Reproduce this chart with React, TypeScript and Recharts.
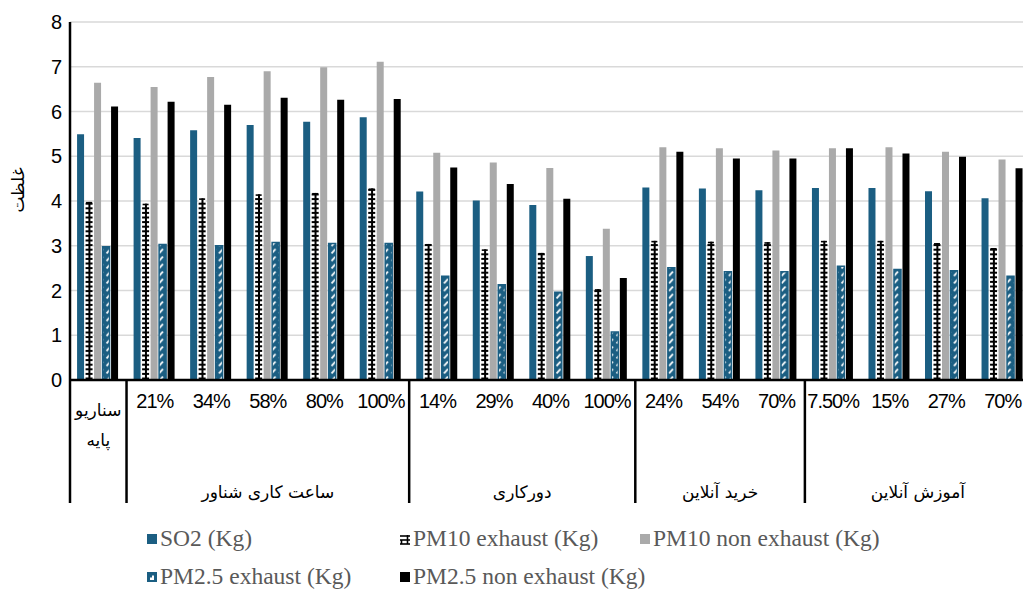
import { BarChart, Bar, XAxis, YAxis, CartesianGrid } from "recharts";

const categories = [
  "سناریو پایه", "21%", "34%", "58%", "80%", "100%",
  "14%", "29%", "40%", "100%",
  "24%", "54%", "70%",
  "7.50%", "15%", "27%", "70%",
];
const groupNames = ["", "ساعت کاری شناور", "دورکاری", "خرید آنلاین", "آموزش آنلاین"];
const groupSizes = [1, 5, 4, 3, 4];

const so2 = [5.49, 5.41, 5.58, 5.7, 5.77, 5.87, 4.21, 4.01, 3.91, 2.77, 4.3, 4.28, 4.24, 4.29, 4.29, 4.22, 4.06];
const pm10Exhaust = [3.98, 3.94, 4.06, 4.15, 4.18, 4.28, 3.04, 2.92, 2.84, 2.03, 3.11, 3.09, 3.08, 3.11, 3.11, 3.06, 2.95];
const pm10NonExhaust = [6.64, 6.55, 6.77, 6.9, 6.99, 7.11, 5.08, 4.86, 4.74, 3.38, 5.2, 5.18, 5.13, 5.18, 5.2, 5.1, 4.93];
const pm25Exhaust = [2.98, 3.03, 3.0, 3.07, 3.05, 3.05, 2.32, 2.13, 1.96, 1.07, 2.51, 2.42, 2.42, 2.54, 2.47, 2.44, 2.32];
const pm25NonExhaust = [6.11, 6.22, 6.15, 6.31, 6.26, 6.28, 4.75, 4.38, 4.05, 2.28, 5.1, 4.95, 4.95, 5.18, 5.06, 4.99, 4.73];

const yTicks = [0, 1, 2, 3, 4, 5, 6, 7, 8];

const TEAL = "#1b5e82";
const GRAY = "#aaaaaa";
const PERSIAN = "'DejaVu Sans', sans-serif";
const SERIF = "Liberation Serif, serif";

const data = categories.map((label, i) => ({
  label,
  so2: so2[i],
  pm10Ex: pm10Exhaust[i],
  pm10Non: pm10NonExhaust[i],
  pm25Ex: pm25Exhaust[i],
  pm25Non: pm25NonExhaust[i],
}));

// index of the first category in each group
const groupStarts: number[] = [];
groupSizes.reduce((acc, n) => {
  groupStarts.push(acc);
  return acc + n;
}, 0);

const AXIS_BOTTOM = 503;

function CategoryTick(props: any) {
  const { x, y, payload, index } = props;
  const half = payload.offset ?? 28.26;
  const g = groupStarts.indexOf(index);

  return (
    <g>
      {index === 0 ? (
        <text textAnchor="middle" fontFamily={PERSIAN} fontSize={17} fill="#000">
          <tspan x={x} y={y + 36}>سناریو</tspan>
          <tspan x={x} y={y + 66}>پایه</tspan>
        </text>
      ) : (
        <text
          x={x}
          y={y + 28}
          textAnchor="middle"
          fontFamily="'Liberation Sans', Arial, sans-serif"
          fontSize={20}
          letterSpacing={-1}
          fill="#000"
        >
          {payload.value}
        </text>
      )}
      {g >= 0 && (
        <line x1={x - half} x2={x - half} y1={y} y2={AXIS_BOTTOM} stroke="#000" strokeWidth={2.5} />
      )}
      {g > 0 && (
        <text
          x={x + (groupSizes[g] - 1) * half}
          y={y + 118}
          textAnchor="middle"
          fontFamily={PERSIAN}
          fontSize={17}
          fill="#000"
        >
          {groupNames[g]}
        </text>
      )}
    </g>
  );
}

function LadderBar(props: any) {
  const { x, y, width, height } = props;
  if (!height || height <= 0) return null;
  const midX = x + width * 0.55;
  const rungs: number[] = [];
  for (let yy = y + height - 1.5; yy > y + 1; yy -= 4.6) rungs.push(yy);
  return (
    <g>
      <rect x={x} y={y} width={width} height={height} fill="#fff" />
      <line x1={midX} x2={midX} y1={y} y2={y + height} stroke="#000" strokeWidth={2} />
      <line x1={x + 0.5} x2={x + width - 0.5} y1={y + 0.8} y2={y + 0.8} stroke="#000" strokeWidth={1.6} />
      {rungs.map((r, i) => (
        <line key={i} x1={x} x2={x + width} y1={r} y2={r} stroke="#000" strokeWidth={2} />
      ))}
    </g>
  );
}

function YLabel() {
  return (
    <text x={24} y={190} transform="rotate(-90 24 190)" textAnchor="middle" fontFamily={PERSIAN} fontSize={17} fill="#000">
      غلظت
    </text>
  );
}

function LegendItem({ left, top, swatch, text }: { left: number; top: number; swatch: any; text: string }) {
  return (
    <div style={{ position: "absolute", left, top, display: "flex", alignItems: "center", whiteSpace: "nowrap" }}>
      <svg width={12} height={12} style={{ marginRight: 3 }}>
        {swatch}
      </svg>
      <span>{text}</span>
    </div>
  );
}

export default function App() {
  return (
    <div
      style={{
        position: "absolute",
        left: 0,
        top: 0,
        width: 1023,
        height: 590,
        overflow: "hidden",
        background: "#fff",
      }}
    >
      <BarChart
        width={1061}
        height={503}
        data={data}
        margin={{ top: 22, right: 30, bottom: 0, left: 0 }}
        barCategoryGap="12.5%"
        barGap={1.5}
      >
        <defs>
          <pattern id="diagTeal" patternUnits="userSpaceOnUse" width={7.5} height={7.5}>
            <rect width={7.5} height={7.5} fill={TEAL} />
            <line x1={1.5} y1={6} x2={5.5} y2={1.5} stroke="#fff" strokeWidth={1.8} />
          </pattern>
        </defs>
        <CartesianGrid vertical={false} stroke="#d9d9d9" strokeWidth={1.5} />
        <YAxis
          domain={[0, 8]}
          ticks={yTicks}
          width={70}
          tickLine={false}
          tickSize={0}
          tickMargin={8}
          axisLine={{ stroke: "#000", strokeWidth: 2.5 }}
          tick={{ fontSize: 20, fill: "#000", fontFamily: "'Liberation Sans', Arial, sans-serif" }}
          label={<YLabel />}
        />
        <XAxis
          dataKey="label"
          interval={0}
          height={123}
          tickLine={false}
          tickSize={0}
          tickMargin={0}
          axisLine={{ stroke: "#000", strokeWidth: 2.5 }}
          tick={<CategoryTick />}
        />
        <Bar dataKey="so2" name="SO2 (Kg)" fill={TEAL} isAnimationActive={false} />
        <Bar dataKey="pm10Ex" name="PM10 exhaust (Kg)" fill="#fff" shape={<LadderBar />} isAnimationActive={false} />
        <Bar dataKey="pm10Non" name="PM10 non exhaust (Kg)" fill={GRAY} isAnimationActive={false} />
        <Bar
          dataKey="pm25Ex"
          name="PM2.5 exhaust (Kg)"
          fill="url(#diagTeal)"
          stroke={TEAL}
          strokeWidth={1.5}
          isAnimationActive={false}
        />
        <Bar dataKey="pm25Non" name="PM2.5 non exhaust (Kg)" fill="#000" isAnimationActive={false} />
      </BarChart>

      {/* Legend */}
      <div
        style={{
          position: "absolute",
          left: 0,
          top: 0,
          width: 1023,
          height: 590,
          fontFamily: SERIF,
          fontSize: 23.5,
          color: "#595959",
        }}
      >
        <LegendItem
          left={145}
          top={525}
          text="SO2 (Kg)"
          swatch={<rect x={2} y={1} width={10} height={10} fill={TEAL} />}
        />
        <LegendItem
          left={398}
          top={525}
          text="PM10 exhaust (Kg)"
          swatch={
            <g stroke="#000" strokeWidth={1.6}>
              <line x1={2} x2={12} y1={3} y2={3} />
              <line x1={2} x2={12} y1={7} y2={7} />
              <line x1={2} x2={12} y1={11} y2={11} />
              <line x1={3.5} x2={3.5} y1={7} y2={11} />
              <line x1={9.5} x2={9.5} y1={2} y2={11} />
            </g>
          }
        />
        <LegendItem
          left={638}
          top={525}
          text="PM10 non exhaust (Kg)"
          swatch={<rect x={2} y={1} width={10} height={10} fill={GRAY} />}
        />
        <LegendItem
          left={145}
          top={563}
          text="PM2.5 exhaust (Kg)"
          swatch={
            <g>
              <rect x={2.75} y={1.75} width={8.5} height={8.5} fill={TEAL} stroke={TEAL} strokeWidth={1.5} />
              <path d="M5 9 L5 6.5 L7 6.5 L7 4.5 L9 4.5 L9 9 Z" fill="#fff" />
            </g>
          }
        />
        <LegendItem
          left={398}
          top={563}
          text="PM2.5 non exhaust (Kg)"
          swatch={<rect x={2} y={1} width={10} height={10} fill="#000" />}
        />
      </div>
    </div>
  );
}
